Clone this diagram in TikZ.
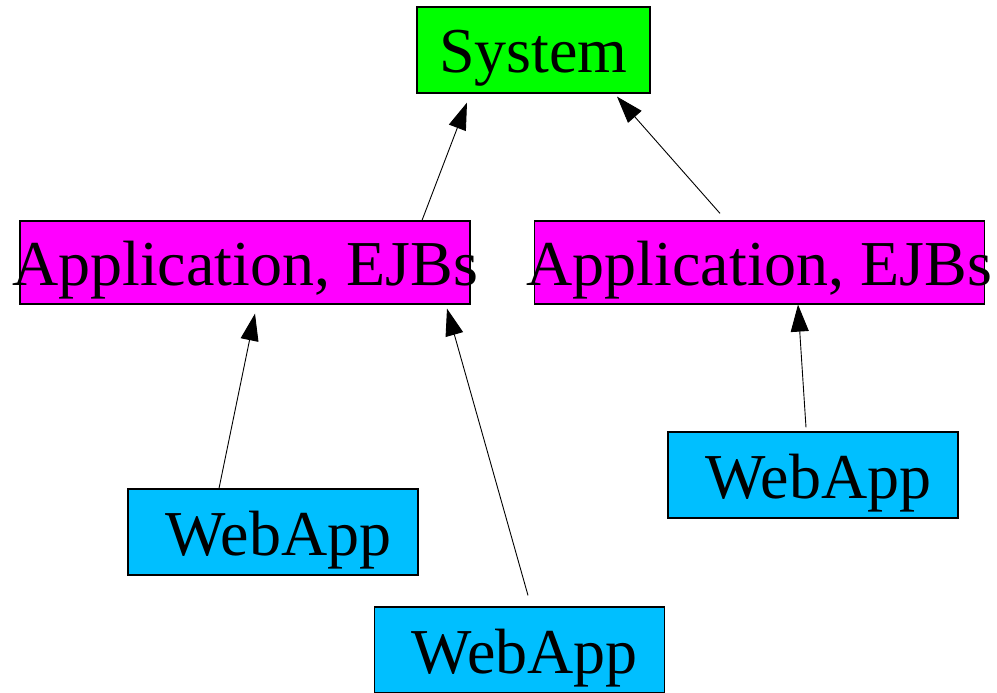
\documentclass[tikz,border=0pt]{standalone}
\usepackage{fontspec}
\setmainfont{Liberation Serif}
\usetikzlibrary{arrows.meta}

\definecolor{sysgreen}{RGB}{0,255,0}
\definecolor{appmagenta}{RGB}{255,0,255}
\definecolor{webblue}{RGB}{0,191,255}

% label that may run past its box
\newcommand{\boxtext}[1]{\makebox[0pt]{#1}}

\begin{document}
\begin{tikzpicture}[x=1pt,y=-1pt,>={Triangle[length=27pt,width=18pt]},
	box/.style={draw,line width=1.2pt,inner sep=0pt,font=\fontsize{64}{64}\selectfont,
		text height=66pt,text depth=20pt},
	appbox/.style={box,fill=appmagenta,minimum width=450pt,text height=64pt,text depth=19pt},
	webbox/.style={box,fill=webblue,minimum width=290pt},
	dep/.style={->,line width=0.9pt}]
	\useasboundingbox (0,0) rectangle (997,693);

	% the system on top
	\node[box,fill=sysgreen,minimum width=233pt] (sys) at (533.5,50) {\boxtext{System}};

	% the two applications
	\node[appbox] (app1) at (245,262.5) {\boxtext{Application, EJBs}};
	\node[appbox] (app2) at (759.5,262.5) {\boxtext{Application, EJBs}};

	% the web applications
	\node[webbox] (web1) at (273,532) {\boxtext{\,WebApp}};
	\node[webbox] (web2) at (519.5,650) {\boxtext{\,WebApp}};
	\node[webbox] (web3) at (813,475) {\boxtext{\,WebApp}};

	% webapps depend on their application
	\draw[dep] ([xshift=-54pt]web1.north) -- ([xshift=10pt,yshift=-9pt]app1.south);
	\draw[dep] ([xshift=8.5pt,yshift=11pt]web2.north) -- ([xshift=202pt,yshift=-4pt]app1.south);
	\draw[dep] ([xshift=-7pt,yshift=4pt]web3.north) -- ([xshift=38.5pt]app2.south);

	% applications depend on the system
	\draw[dep] ([xshift=177pt]app1.north) -- ([xshift=-66.5pt,yshift=-9pt]sys.south);
	\draw[dep] ([xshift=-39.5pt,yshift=7pt]app2.north) -- ([xshift=83.5pt,yshift=-3pt]sys.south);
\end{tikzpicture}
\end{document}
